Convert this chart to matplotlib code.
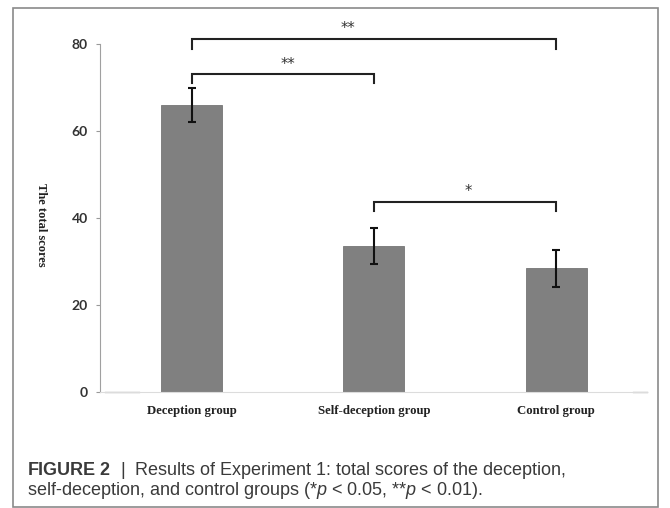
import matplotlib.pyplot as plt
from matplotlib.patches import Rectangle

plt.rcParams['mathtext.fontset'] = 'custom'
plt.rcParams['mathtext.rm'] = 'Liberation Sans'
plt.rcParams['mathtext.it'] = 'Liberation Sans:italic'
plt.rcParams['mathtext.bf'] = 'Liberation Sans:bold'

groups = ['Deception group', 'Self-deception group', 'Control group']
scores = [66.0, 33.6, 28.4]
errors = [4.0, 4.1, 4.2]
yticks = [0, 20, 40, 60, 80]

# significance brackets: (left bar, right bar), level, leg bottom, label
bracket_pairs = [(0, 2), (0, 1), (1, 2)]
bracket_top = [81.1, 73.1, 43.7]
bracket_leg = [78.9, 71.0, 41.7]
bracket_labels = ['**', '**', '*']
label_x = [0.857, 0.527, 1.52]
label_y = [83.6, 75.3, 46.0]

fig = plt.figure(figsize=(6.7, 5.08), dpi=100)
ax = fig.add_axes([0.149, 0.2283, 0.817, 0.7193])

x = range(len(groups))
ax.bar(x, scores, width=0.335, color='#808080', edgecolor='#757575', linewidth=0.6, zorder=2)
ax.errorbar(x, scores, yerr=errors, fmt='none', ecolor='#111111', elinewidth=1.5,
            capsize=3, capthick=1.5, zorder=3)

for (a, b), top, leg in zip(bracket_pairs, bracket_top, bracket_leg):
    ax.plot([a, a, b, b], [leg, top, top, leg], color='#222222', lw=1.5,
            solid_joinstyle='miter', clip_on=False)
for lx, ly, lab in zip(label_x, label_y, bracket_labels):
    ax.text(lx, ly, lab, ha='center', va='center', fontsize=10.5, color='#333333')

ax.set_xlim(-0.505, 2.5)
ax.set_ylim(0, 84)
ax.set_yticks(yticks)
ax.set_xticks(list(x))
ax.set_xticklabels(groups, family='Liberation Serif', fontweight='bold', fontsize=9.2, color='#222222')
ax.tick_params(axis='x', length=0, pad=9)
ax.tick_params(axis='y', length=3, width=0.8, color='#999999', pad=5.5)
for lab in ax.get_yticklabels():
    lab.set_family('Lato')
    lab.set_fontweight('bold')
    lab.set_fontsize(10)
    lab.set_color('#333333')

for s in ['top', 'right']:
    ax.spines[s].set_visible(False)
ax.spines['left'].set_color('#a0a0a0')
ax.spines['left'].set_bounds(0, 80)
ax.spines['bottom'].set_color('#dcdcdc')
ax.spines['bottom'].set_linewidth(0.8)
# darker ends of the baseline
ax.plot([-0.475, -0.29], [0, 0], color='#888888', lw=0.9, clip_on=False)
ax.plot([2.42, 2.5], [0, 0], color='#888888', lw=0.9, clip_on=False)

fig.text(41 / 670, 0.557, 'The total scores', rotation=270, ha='center', va='center',
         family='Liberation Serif', fontweight='bold', fontsize=9, color='#222222')

fig.patches.append(Rectangle((13 / 670, 1 / 508), 645 / 670, 499 / 508, transform=fig.transFigure,
                             fill=False, edgecolor='#8a8a8a', lw=1.2))

fig.text(27 / 670, 0.065, r'$\mathbf{FIGURE\ 2}$  |  Results of Experiment 1: total scores of the deception,',
         family='Liberation Sans', fontsize=13, color='#3a3a3a', va='baseline')
fig.text(27 / 670, 0.0256, r'self-deception, and control groups (*$p$ < 0.05, **$p$ < 0.01).',
         family='Liberation Sans', fontsize=13, color='#3a3a3a', va='baseline')

fig.savefig('out.png', dpi=100)
